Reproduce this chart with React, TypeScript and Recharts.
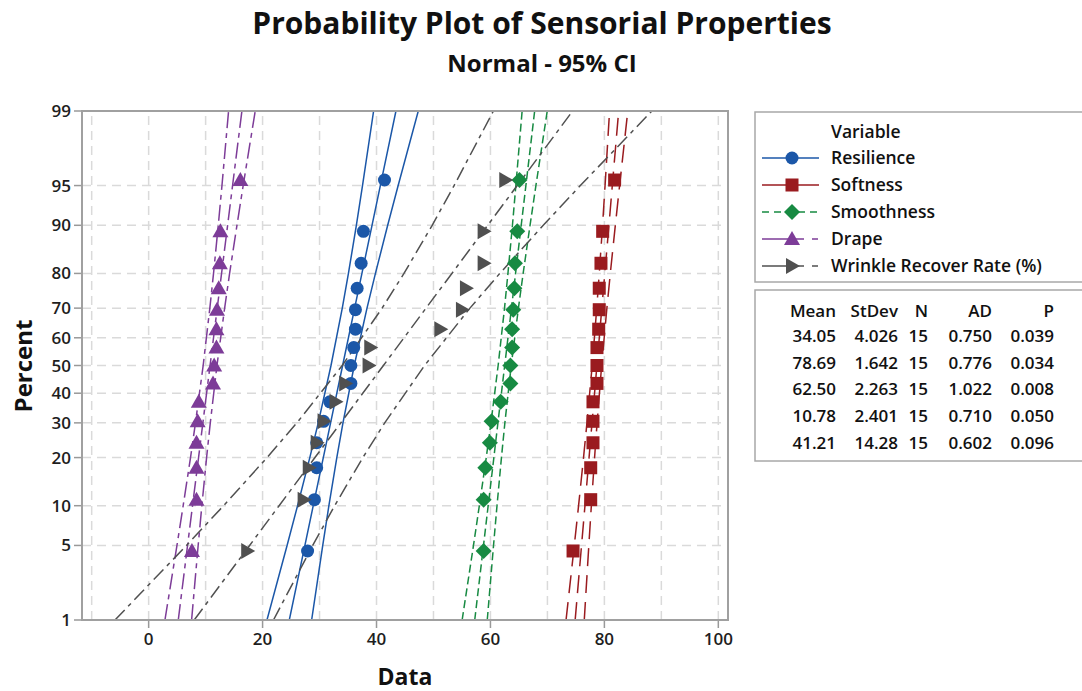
import React from "react";
import { ComposedChart, Line, Scatter, XAxis, YAxis, ReferenceLine } from "recharts";

// percent scale shown on the y axis
const percentTicks = [1, 5, 10, 20, 30, 40, 50, 60, 70, 80, 90, 95, 99];
const xTicks = [0, 20, 40, 60, 80, 100];
const xGrid = [-10, 0, 10, 20, 30, 40, 50, 60, 70, 80, 90, 100];

// plotting positions (percent) of the 15 sorted observations
const plotPct = [4.5, 11.0, 17.5, 24.0, 30.5, 37.0, 43.5, 50.0, 56.5, 63.0, 69.5, 76.0, 82.5, 89.0, 95.5];

const resilience = [27.9, 29.1, 29.5, 29.5, 30.7, 31.8, 35.5, 35.5, 36.0, 36.3, 36.3, 36.6, 37.3, 37.7, 41.4];
const softness = [74.5, 77.6, 77.6, 78.0, 78.0, 78.0, 78.7, 78.7, 78.7, 79.0, 79.1, 79.1, 79.4, 79.7, 81.8];
const smoothness = [58.8, 58.8, 59.1, 59.9, 60.2, 61.8, 63.5, 63.5, 63.8, 63.8, 64.0, 64.2, 64.3, 64.7, 65.1];
const drape = [7.6, 8.4, 8.4, 8.4, 8.6, 8.8, 11.3, 11.5, 11.9, 11.9, 12.0, 12.3, 12.5, 12.6, 16.1];
const wrinkle = [17.3, 27.2, 28.1, 29.5, 30.7, 32.8, 34.5, 38.6, 38.9, 51.2, 55.0, 55.7, 58.8, 58.8, 62.6];

// fitted line and 95% CI band, x at these percent levels
const bandPct = [1, 5, 10, 20, 30, 50, 70, 80, 90, 95, 99];

const resFit = [24.69, 27.43, 28.89, 30.66, 31.94, 34.05, 36.16, 37.44, 39.21, 40.67, 43.41];
const resLo = [20.77, 24.3, 26.14, 28.29, 29.77, 32.01, 33.99, 35.07, 36.46, 37.54, 39.49];
const resHi = [28.61, 30.56, 31.64, 33.03, 34.11, 36.09, 38.33, 39.81, 41.96, 43.8, 47.33];

const softFit = [74.87, 75.99, 76.59, 77.31, 77.83, 78.69, 79.55, 80.07, 80.8, 81.39, 82.51];
const softLo = [73.27, 74.72, 75.47, 76.34, 76.94, 77.86, 78.66, 79.1, 79.68, 80.12, 80.91];
const softHi = [76.47, 77.27, 77.71, 78.28, 78.72, 79.52, 80.44, 81.04, 81.92, 82.67, 84.11];

const smoothFit = [57.24, 58.78, 59.6, 60.6, 61.31, 62.5, 63.69, 64.41, 65.4, 66.22, 67.76];
const smoothLo = [55.03, 57.02, 58.05, 59.26, 60.09, 61.35, 62.47, 63.07, 63.86, 64.46, 65.56];
const smoothHi = [59.44, 60.54, 61.15, 61.93, 62.53, 63.65, 64.91, 65.74, 66.95, 67.98, 69.97];

const drapeFit = [5.2, 6.83, 7.7, 8.76, 9.52, 10.78, 12.04, 12.8, 13.86, 14.73, 16.37];
const drapeLo = [2.86, 4.97, 6.06, 7.35, 8.22, 9.57, 10.74, 11.39, 12.22, 12.87, 14.03];
const drapeHi = [7.54, 8.69, 9.34, 10.17, 10.82, 11.99, 13.34, 14.21, 15.5, 16.59, 18.71];

const wrinkleFit = [8.0, 17.72, 22.9, 29.19, 33.73, 41.21, 48.69, 53.23, 59.52, 64.7, 74.43];
const wrinkleLo = [-5.91, 6.64, 13.15, 20.78, 26.02, 33.98, 40.98, 44.82, 49.77, 53.62, 60.52];
const wrinkleHi = [21.91, 28.8, 32.65, 37.6, 41.44, 48.44, 56.4, 61.64, 69.27, 75.78, 88.34];

// summary table
const statHeader = ["Mean", "StDev", "N", "AD", "P"];
const statRows = [
  ["34.05", "4.026", "15", "0.750", "0.039"],
  ["78.69", "1.642", "15", "0.776", "0.034"],
  ["62.50", "2.263", "15", "1.022", "0.008"],
  ["10.78", "2.401", "15", "0.710", "0.050"],
  ["41.21", "14.28", "15", "0.602", "0.096"],
];

const FONT = "'Open Sans', 'Noto Sans', sans-serif";

// inverse normal cdf (Acklam) for the probability axis
function probit(p: number) {
  const a = [-39.69683028665376, 220.9460984245205, -275.9285104469687, 138.357751867269, -30.66479806614716, 2.506628277459239];
  const b = [-54.47609879822406, 161.5858368580409, -155.6989798598866, 66.80131188771972, -13.28068155288572];
  const c = [-0.007784894002430293, -0.3223964580411365, -2.400758277161838, -2.549732539343734, 4.374664141464968, 2.938163982698783];
  const d = [0.007784695709041462, 0.3224671290700398, 2.445134137142996, 3.754408661907416];
  const plow = 0.02425;
  if (p < plow) {
    const q = Math.sqrt(-2 * Math.log(p));
    return (((((c[0] * q + c[1]) * q + c[2]) * q + c[3]) * q + c[4]) * q + c[5]) / ((((d[0] * q + d[1]) * q + d[2]) * q + d[3]) * q + 1);
  }
  if (p <= 1 - plow) {
    const q = p - 0.5;
    const r = q * q;
    return ((((((a[0] * r + a[1]) * r + a[2]) * r + a[3]) * r + a[4]) * r + a[5]) * q) / (((((b[0] * r + b[1]) * r + b[2]) * r + b[3]) * r + b[4]) * r + 1);
  }
  const q = Math.sqrt(-2 * Math.log(1 - p));
  return -(((((c[0] * q + c[1]) * q + c[2]) * q + c[3]) * q + c[4]) * q + c[5]) / ((((d[0] * q + d[1]) * q + d[2]) * q + d[3]) * q + 1);
}

const z = (pct: number) => probit(pct / 100);
const yMin = z(1);
const yMax = z(99);

const pts = (xs: number[]) => xs.map((x, i) => ({ x, y: z(plotPct[i]) }));
const curve = (xs: number[]) => xs.map((x, i) => ({ x, y: z(bandPct[i]) }));

type Kind = "circle" | "square" | "diamond" | "triangle" | "right";

function markerPath(kind: Kind, cx: number, cy: number, color: string) {
  if (kind === "circle") return <circle cx={cx} cy={cy} r={6.5} fill={color} />;
  if (kind === "square") return <rect x={cx - 6.5} y={cy - 6.5} width={13} height={13} fill={color} />;
  if (kind === "diamond")
    return <polygon points={`${cx},${cy - 8} ${cx + 8},${cy} ${cx},${cy + 8} ${cx - 8},${cy}`} fill={color} />;
  if (kind === "triangle")
    return <polygon points={`${cx},${cy - 8} ${cx + 8},${cy + 6} ${cx - 8},${cy + 6}`} fill={color} />;
  return <polygon points={`${cx - 6},${cy - 8} ${cx + 8},${cy} ${cx - 6},${cy + 8}`} fill={color} />;
}

const series = [
  { name: "Resilience", color: "#1b57a8", kind: "circle" as Kind, dash: undefined, obs: resilience, fit: resFit, lo: resLo, hi: resHi },
  { name: "Softness", color: "#9a1b1f", kind: "square" as Kind, dash: "18 9", obs: softness, fit: softFit, lo: softLo, hi: softHi },
  { name: "Smoothness", color: "#178a42", kind: "diamond" as Kind, dash: "8 4", obs: smoothness, fit: smoothFit, lo: smoothLo, hi: smoothHi },
  { name: "Drape", color: "#7d3c98", kind: "triangle" as Kind, dash: "16 5 5 5", obs: drape, fit: drapeFit, lo: drapeLo, hi: drapeHi },
  { name: "Wrinkle Recover Rate (%)", color: "#505050", kind: "right" as Kind, dash: "14 5 4 5", obs: wrinkle, fit: wrinkleFit, lo: wrinkleLo, hi: wrinkleHi },
];

const tickStyle = { fontSize: 17, fontWeight: 600, fill: "#1e1e1e", fontFamily: FONT };

export default function App() {
  const colX = [836, 898, 928, 992, 1054];
  return (
    <div style={{ position: "absolute", left: 0, top: 0, width: 1082, height: 691, background: "#fff", fontFamily: FONT }}>
      <ComposedChart width={1082} height={691} margin={{ top: 111, right: 354, bottom: 31, left: 0 }}>
        <XAxis
          dataKey="x"
          type="number"
          domain={[-11.7, 101.7]}
          allowDataOverflow
          ticks={xTicks}
          tick={tickStyle}
          tickSize={8}
          tickMargin={5}
          height={40}
          axisLine={false}
          tickLine={{ stroke: "#999", strokeWidth: 1.5 }}
        />
        <YAxis
          dataKey="y"
          type="number"
          domain={[yMin, yMax]}
          allowDataOverflow
          ticks={percentTicks.map(z)}
          tickFormatter={(v: number) => {
            const i = percentTicks.findIndex((p) => Math.abs(z(p) - v) < 1e-6);
            return i >= 0 ? String(percentTicks[i]) : "";
          }}
          tick={tickStyle}
          tickSize={8}
          tickMargin={3}
          width={82}
          axisLine={false}
          tickLine={{ stroke: "#999", strokeWidth: 1.5 }}
        />
        {xGrid.map((g) => (
          <ReferenceLine key={"gx" + g} x={g} stroke="#dadada" strokeWidth={1.5} strokeDasharray="9 6" />
        ))}
        {percentTicks.slice(1, -1).map((p) => (
          <ReferenceLine key={"gy" + p} y={z(p)} stroke="#dadada" strokeWidth={1.5} strokeDasharray="9 6" />
        ))}
        {series.flatMap((s) =>
          [s.lo, s.fit, s.hi].map((xs, k) => (
            <Line
              key={s.name + k}
              data={curve(xs)}
              dataKey="y"
              type="linear"
              stroke={s.color}
              strokeWidth={1.5}
              strokeDasharray={s.dash}
              dot={false}
              activeDot={false}
              isAnimationActive={false}
            />
          ))
        )}
        {series.map((s) => (
          <Scatter
            key={s.name + "pts"}
            data={pts(s.obs)}
            dataKey="y"
            isAnimationActive={false}
            shape={(p: any) => markerPath(s.kind, p.cx, p.cy, s.color)}
          />
        ))}
      </ComposedChart>
      <svg width={1082} height={691} style={{ position: "absolute", left: 0, top: 0, pointerEvents: "none" }} fontFamily={FONT}>
        <text x={542} y={34} textAnchor="middle" fontSize={30} fontWeight={700} fill="#111">
          Probability Plot of Sensorial Properties
        </text>
        <text x={542} y={72} textAnchor="middle" fontSize={24} fontWeight={700} fill="#111">
          Normal - 95% CI
        </text>
        <rect x={82} y={111} width={646} height={509} fill="none" stroke="#a0a0a0" strokeWidth={2} />
        <text x={405} y={685} textAnchor="middle" fontSize={23} fontWeight={700} fill="#111">
          Data
        </text>
        <text x={0} y={0} transform="translate(32,366) rotate(-90)" textAnchor="middle" fontSize={24} fontWeight={700} fill="#111">
          Percent
        </text>

        <rect x={755} y={112} width={340} height={170} fill="none" stroke="#a8a8a8" strokeWidth={1.5} />
        <text x={831} y={138} fontSize={17.5} fontWeight={600} fill="#111">
          Variable
        </text>
        {series.map((s, i) => {
          const cy = 158 + i * 27;
          return (
            <g key={"lg" + s.name}>
              <line x1={762} x2={819} y1={cy} y2={cy} stroke={s.color} strokeWidth={1.5} strokeDasharray={i === 2 ? "7 5" : i >= 3 ? "42 8 6 20" : undefined} />
              {markerPath(s.kind, 792, cy, s.color)}
              <text x={831} y={cy + 6} fontSize={17.5} fontWeight={600} fill="#111">
                {s.name}
              </text>
            </g>
          );
        })}

        <rect x={755} y={290} width={340} height={171} fill="none" stroke="#a8a8a8" strokeWidth={1.5} />
        {statHeader.map((h, j) => (
          <text key={"h" + h} x={colX[j]} y={317} textAnchor="end" fontSize={17} fontWeight={600} fill="#111">
            {h}
          </text>
        ))}
        {statRows.map((row, i) =>
          row.map((v, j) => (
            <text key={"c" + i + j} x={colX[j]} y={342 + i * 26.7} textAnchor="end" fontSize={17} fontWeight={600} fill="#111">
              {v}
            </text>
          ))
        )}
      </svg>
    </div>
  );
}
